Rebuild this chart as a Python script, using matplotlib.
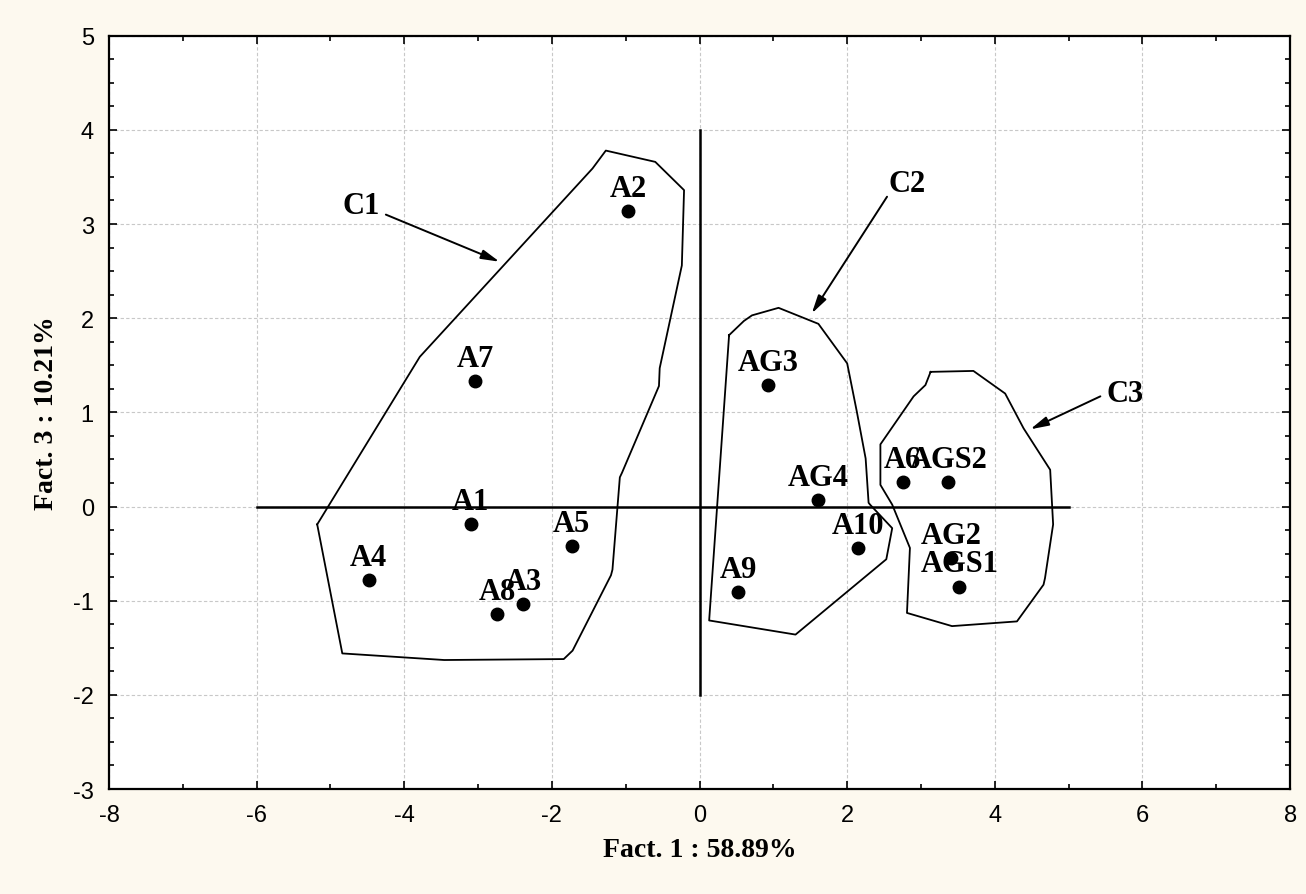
import numpy as np
import matplotlib.pyplot as plt
from matplotlib.ticker import MultipleLocator

plt.rcParams['axes.unicode_minus'] = False

# sample scores (Fact. 1, Fact. 3)
names = ['A1', 'A2', 'A3', 'A4', 'A5', 'A6', 'A7', 'A8', 'A9', 'A10',
         'AG2', 'AG3', 'AG4', 'AGS1', 'AGS2']
fact1 = [-3.10, -0.97, -2.39, -4.48, -1.73, 2.75, -3.04, -2.74, 0.52, 2.15,
         3.41, 0.93, 1.61, 3.52, 3.37]
fact3 = [-0.19, 3.14, -1.04, -0.78, -0.42, 0.26, 1.33, -1.14, -0.91, -0.44,
         -0.55, 1.29, 0.07, -0.85, 0.26]

# hand drawn cluster outlines
c1_x = [-5.18, -3.79, -1.45, -1.27, -0.60, -0.21, -0.24, -0.54, -0.55, -1.05,
        -1.08, -1.18, -1.20, -1.72, -1.84, -3.46, -4.84, -5.18]
c1_y = [-0.19, 1.59, 3.59, 3.78, 3.66, 3.36, 2.56, 1.47, 1.28, 0.36,
        0.31, -0.67, -0.73, -1.53, -1.62, -1.63, -1.56, -0.19]
c2_x = [0.40, 0.60, 0.71, 1.07, 1.61, 2.00, 2.13, 2.25, 2.29, 2.31, 2.61, 2.53,
        1.30, 0.13, 0.40]
c2_y = [1.82, 1.97, 2.03, 2.11, 1.94, 1.52, 1.01, 0.51, 0.04, 0.02, -0.23, -0.56,
        -1.36, -1.21, 1.82]
c3_x = [3.13, 3.71, 4.14, 4.39, 4.75, 4.79, 4.68, 4.66, 4.30, 3.42, 2.81,
        2.85, 2.61, 2.45, 2.45, 2.90, 3.06, 3.13]
c3_y = [1.43, 1.44, 1.20, 0.83, 0.39, -0.19, -0.76, -0.83, -1.22, -1.27, -1.13,
        -0.44, 0.02, 0.23, 0.66, 1.17, 1.29, 1.43]

clusters = ['C1', 'C2', 'C3']
text_pos = [(-4.58, 3.20), (2.81, 3.43), (5.77, 1.20)]
arrow_from = [(-4.25, 3.10), (2.54, 3.29), (5.43, 1.17)]
arrow_to = [(-2.71, 2.60), (1.52, 2.05), (4.48, 0.82)]

bg = '#fdf9ef'
serif = ['Liberation Serif', 'DejaVu Serif']

fig = plt.figure(figsize=(13.06, 8.95), dpi=100, facecolor=bg)
ax = fig.add_axes([0.0835, 0.1173, 0.9043, 0.8417])
ax.set_facecolor('white')

ax.set_xlim(-8, 8)
ax.set_ylim(-3, 5)
ax.xaxis.set_major_locator(MultipleLocator(2))
ax.xaxis.set_minor_locator(MultipleLocator(1))
ax.yaxis.set_major_locator(MultipleLocator(1))
ax.yaxis.set_minor_locator(MultipleLocator(0.25))
ax.grid(True, which='major', color='#c8c8c8', linestyle=(0, (3, 2)), linewidth=0.8)
ax.set_axisbelow(True)
ax.tick_params(which='both', direction='in', top=True, right=True,
               labelsize=17, pad=11, width=1.2)
ax.tick_params(which='major', length=6)
ax.tick_params(which='minor', length=3.5)
for lab in ax.get_xticklabels() + ax.get_yticklabels():
    lab.set_family('Liberation Sans')
for s in ax.spines.values():
    s.set_linewidth(1.6)

# origin axes
ax.plot([-6, 5], [0, 0], color='black', lw=1.8)
ax.plot([0, 0], [-2, 4], color='black', lw=1.8)

for cx, cy in [(c1_x, c1_y), (c2_x, c2_y), (c3_x, c3_y)]:
    ax.plot(cx, cy, color='black', lw=1.3)

ax.plot(fact1, fact3, 'o', color='black', markersize=9)
for n, x, y in zip(names, fact1, fact3):
    ax.annotate(n, (x, y), xytext=(0, 11), textcoords='offset points',
                ha='center', va='baseline', fontsize=22,
                fontweight='bold', family=serif)

for c, tp, a0, a1 in zip(clusters, text_pos, arrow_from, arrow_to):
    ax.text(tp[0], tp[1], c, ha='center', va='center', fontsize=22,
            fontweight='bold', family=serif)
    ax.annotate('', xy=a1, xytext=a0,
                arrowprops=dict(arrowstyle='-|>,head_length=1.1,head_width=0.28',
                                color='black', lw=1.4, shrinkA=0, shrinkB=0))

ax.set_xlabel('Fact. 1 : 58.89%', fontsize=20, fontweight='bold',
              family=serif, labelpad=8)
ax.set_ylabel('Fact. 3 : 10.21%', fontsize=20, fontweight='bold',
              family=serif, labelpad=10)

fig.savefig('out.png', dpi=100, facecolor=bg)
